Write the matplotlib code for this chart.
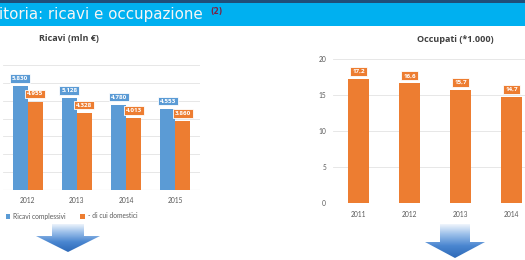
import matplotlib.pyplot as plt
import numpy as np
from matplotlib.patches import Polygon, Rectangle

# Data
anni_ricavi = ['2012', '2013', '2014', '2015']
ricavi_complessivi = [5830, 5128, 4780, 4553]
ricavi_domestici = [4955, 4328, 4013, 3860]

anni_occupati = ['2011', '2012', '2013', '2014']
occupati = [17.2, 16.6, 15.7, 14.7]

BLUE = '#5B9BD5'
ORANGE = '#ED7D31'
GRID = '#E3E3E3'
TXT = '#595959'
W, H = 525, 260

plt.rcParams['font.family'] = ['Lato', 'DejaVu Sans']

fig = plt.figure(figsize=(W / 100, H / 100), dpi=100)
fig.patch.set_facecolor('white')


def px_axes(x0, y_top, x1, y_bot):
    # axes from pixel box (y measured from the top)
    return fig.add_axes([x0 / W, 1 - y_bot / H, (x1 - x0) / W, (y_bot - y_top) / H])


def it_int(v):
    return f'{v:,}'.replace(',', '.')


def it_dec(v):
    return f'{v:.1f}'.replace('.', ',')


def label(ax, x, y, text, color):
    ax.annotate(text, (x, y), xytext=(0, 5.5), textcoords='offset points',
                ha='center', va='center', fontsize=4.5, color='white',
                family=['Open Sans', 'DejaVu Sans'], fontweight='bold',
                bbox=dict(boxstyle='square,pad=0.3', fc=color, ec='white', lw=0.6),
                zorder=5)


# Ricavi chart
ax1 = px_axes(3, 65, 200, 190)
x = np.arange(len(anni_ricavi))
bw = 0.305
ax1.bar(x - bw / 2, ricavi_complessivi, bw, color=BLUE, label='Ricavi complessivi', zorder=3)
ax1.bar(x + bw / 2, ricavi_domestici, bw, color=ORANGE, label='- di cui domestici', zorder=3)
for i in range(len(x)):
    label(ax1, x[i] - bw / 2, ricavi_complessivi[i], it_int(ricavi_complessivi[i]), BLUE)
    label(ax1, x[i] + bw / 2, ricavi_domestici[i], it_int(ricavi_domestici[i]), ORANGE)
ax1.set_xlim(-0.5, 3.5)
ax1.set_ylim(0, 7000)
ax1.set_yticks(np.arange(0, 7001, 1000))
ax1.set_yticklabels([])
ax1.set_xticks(x)
ax1.set_xticklabels(anni_ricavi, fontsize=4.8, color=TXT)
ax1.tick_params(length=0, pad=5)
ax1.grid(axis='y', color=GRID, lw=0.6, zorder=0)
for s in ax1.spines.values():
    s.set_visible(False)
ax1.axhline(0, color='#D0D0D0', lw=0.8, zorder=1)
ax1.set_title('Ricavi (mln €)', fontsize=6.5, fontweight='bold', color='#404040',
              family=['Open Sans', 'DejaVu Sans'], x=(69 - 3) / 197, pad=17)
ax1.legend(loc='center left', bbox_to_anchor=(3 / W, 1 - 216 / H), bbox_transform=fig.transFigure,
           ncol=2, frameon=False, fontsize=4.8, labelcolor=TXT, handlelength=0.7,
           handleheight=0.7, handletextpad=0.4, columnspacing=2.2, borderaxespad=0)

# Occupati chart
ax2 = px_axes(333, 59, 537, 203)
x2 = np.arange(len(anni_occupati))
ax2.bar(x2, occupati, 0.43, color=ORANGE, zorder=3)
for i in range(len(x2)):
    label(ax2, x2[i], occupati[i], it_dec(occupati[i]), ORANGE)
ax2.set_xlim(-0.5, 3.5)
ax2.set_ylim(0, 20)
ax2.set_yticks([0, 5, 10, 15, 20])
ax2.set_yticklabels(['0', '5', '10', '15', '20'], fontsize=4.8, color=TXT)
ax2.set_xticks(x2)
ax2.set_xticklabels(anni_occupati, fontsize=4.8, color=TXT)
ax2.tick_params(length=0)
ax2.tick_params(axis='y', pad=5)
ax2.tick_params(axis='x', pad=6)
ax2.grid(axis='y', color=GRID, lw=0.6, zorder=0)
for s in ax2.spines.values():
    s.set_visible(False)
ax2.set_title('Occupati (*1.000)', fontsize=6.5, fontweight='bold', color='#404040',
              family=['Open Sans', 'DejaVu Sans'], x=(455 - 333) / 204, pad=12)

# Overlay: banner and arrows, in pixel coordinates
ov = fig.add_axes([0, 0, 1, 1], zorder=10)
ov.set_xlim(0, W)
ov.set_ylim(H, 0)
ov.axis('off')
ov.patch.set_alpha(0)

ov.add_patch(Rectangle((0, 0), W, 26, fc='#00B0F0', ec='none'))
ov.add_patch(Rectangle((0, 0), W, 2.5, fc='#1F4E79', ec='none'))
ov.text(-1, 15, 'itoria: ricavi e occupazione', fontsize=10.9, color='#F5F5F5',
        ha='left', va='center', family='DejaVu Sans')
ov.text(210, 11.5, '(2)', fontsize=5.5, color='#7B2346', ha='left', va='center',
        family='DejaVu Sans', fontweight='bold')

grad = np.linspace(0, 1, 64).reshape(-1, 1)
cmap = plt.matplotlib.colors.LinearSegmentedColormap.from_list(
    'arr', ['#FFFFFF', '#9CC0EA', '#4A86D0', '#2E6AB8'])


def arrow(cx, y_top, y_head, y_tip, shaft_w, head_w):
    pts = [(cx - shaft_w / 2, y_top), (cx + shaft_w / 2, y_top), (cx + shaft_w / 2, y_head),
           (cx + head_w / 2, y_head), (cx, y_tip), (cx - head_w / 2, y_head),
           (cx - shaft_w / 2, y_head)]
    poly = Polygon(pts, closed=True, fc='none', ec='none')
    ov.add_patch(poly)
    im = ov.imshow(grad, cmap=cmap, aspect='auto',
                   extent=(cx - head_w / 2, cx + head_w / 2, y_tip, y_top - 2))
    im.set_clip_path(poly)


arrow(68, 224, 236, 252, 32, 64)
arrow(455, 224, 242, 258, 30, 60)
ov.set_xlim(0, W)
ov.set_ylim(H, 0)

fig.savefig('out.png', dpi=100, facecolor='white')
